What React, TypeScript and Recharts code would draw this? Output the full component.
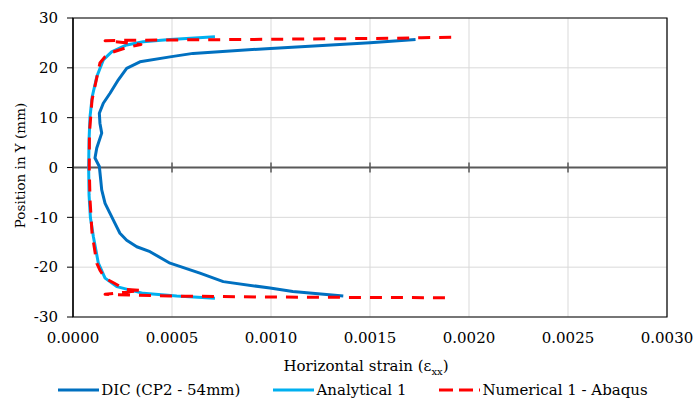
import {
  ScatterChart,
  Scatter,
  XAxis,
  YAxis,
  CartesianGrid,
  ReferenceLine,
  ReferenceArea,
} from "recharts";

type Pt = { x: number; y: number };

// strain values (x), position in Y (y) in mm
const dicStrain = [
  0.00173, 0.0015, 0.000998, 0.000606, 0.00049, 0.000338, 0.000271, 0.000229,
  0.000187, 0.000153, 0.000133, 0.000136, 0.000145, 0.00012, 0.000111, 0.000133,
  0.00014, 0.000145, 0.000162, 0.000187, 0.000212, 0.000237, 0.000271, 0.000322,
  0.000389, 0.00049, 0.000641, 0.000759, 0.000995, 0.00111, 0.001365,
];
const dicY = [
  25.7, 25.05, 23.9, 22.9, 22.2, 21.2, 19.9, 17.6, 14.9, 12.9, 10.9, 8.9, 6.9,
  3.9, 1.9, 0.2, -2.5, -4.5, -7.2, -9.2, -11.2, -13.2, -14.6, -15.9, -16.9,
  -19.2, -21.2, -22.9, -24.2, -24.9, -25.8,
];

const anaStrain = [
  0.000717, 0.00049, 0.000355, 0.000271, 0.000195, 0.000153, 0.00012, 0.000097,
  0.000086, 0.000081, 0.000079, 0.000081, 0.000088, 0.000103, 0.000128,
  0.000162, 0.000221, 0.000355, 0.000524, 0.000717,
];
const anaY = [
  26.25, 25.7, 25.25, 24.6, 23.2, 21.6, 18.2, 14.2, 10.2, 5.5, 0, -5.5, -10.1,
  -13.9, -19.2, -22.2, -23.9, -25.25, -25.8, -26.25,
];

const numStrain = [
  0.00191, 0.00176, 0.00164, 0.000995, 0.00049, 0.000288, 0.000162, 0.000343,
  0.000271, 0.000202, 0.000162, 0.000136, 0.000096, 0.000083, 0.000082,
  0.000086, 0.000096, 0.00012, 0.000136, 0.000162, 0.000195, 0.000263,
  0.000343, 0.000162, 0.000288, 0.00049, 0.000995, 0.0015, 0.0019,
];
const numY = [
  26.13, 26.05, 25.93, 25.73, 25.59, 25.53, 25.45, 24.68, 24.08, 23.18, 22.24,
  20.97, 13.55, 6.9, 0, -6.5, -13.1, -19.2, -20.6, -22.24, -22.92, -24.44,
  -24.68, -25.45, -25.59, -25.79, -25.99, -26.09, -26.13,
];

const xTicks = [0, 0.0005, 0.001, 0.0015, 0.002, 0.0025, 0.003];
const yTicks = [-30, -20, -10, 0, 10, 20, 30];

const zip = (xs: number[], ys: number[]): Pt[] =>
  xs.map((x, i) => ({ x, y: ys[i] }));

const series = [
  { name: "DIC (CP2 - 54mm)", data: zip(dicStrain, dicY), color: "#0070C0", dash: undefined as string | undefined },
  { name: "Analytical 1", data: zip(anaStrain, anaY), color: "#00B0F0", dash: undefined as string | undefined },
  { name: "Numerical 1 - Abaqus", data: zip(numStrain, numY), color: "#FF0000", dash: "12 9" },
];

const FONT = "'DejaVu Serif', 'Liberation Serif', serif";

function XTitle({ viewBox }: any) {
  const cx = viewBox.x + viewBox.width / 2 - 4;
  return (
    <text x={cx} y={371} textAnchor="middle" fontSize={15} fill="#000" style={{ fontFamily: FONT }}>
      Horizontal strain (ε
      <tspan fontSize={10} dy={4}>xx</tspan>
      <tspan dy={-4}>)</tspan>
    </text>
  );
}

function YTitle({ viewBox }: any) {
  const cy = viewBox.y + viewBox.height / 2 - 2;
  return (
    <text
      x={20}
      y={cy}
      transform={`rotate(-90, 20, ${cy})`}
      textAnchor="middle"
      dominantBaseline="central"
      fontSize={13.5}
      fill="#000"
      style={{ fontFamily: FONT }}
    >
      Position in Y (mm)
    </text>
  );
}

export default function App() {
  return (
    <div style={{ position: "absolute", left: 0, top: 0, width: 694, height: 400, fontFamily: FONT }}>
      <ScatterChart
        width={694}
        height={400}
        margin={{ top: 18, right: 27, bottom: 0, left: 0 }}
      >
        <CartesianGrid stroke="#d9d9d9" strokeWidth={1} />
        <XAxis
          type="number"
          dataKey="x"
          domain={[0, 0.003]}
          ticks={xTicks}
          tickFormatter={(v: number) => v.toFixed(4)}
          axisLine={false}
          tickLine={false}
          tickSize={0}
          tickMargin={15}
          height={83}
          tick={{ fontSize: 15, fill: "#000", style: { fontFamily: FONT } }}
          label={<XTitle />}
        />
        <YAxis
          type="number"
          dataKey="y"
          domain={[-30, 30]}
          ticks={yTicks}
          width={73}
          tickSize={6}
          tickMargin={9}
          axisLine={{ stroke: "#000", strokeWidth: 1.2 }}
          tickLine={{ stroke: "#000" }}
          tick={{ fontSize: 15, fill: "#000", style: { fontFamily: FONT } }}
          label={<YTitle />}
        />
        <ReferenceArea x1={0} x2={0.003} y1={-30} y2={30} fill="none" stroke="#000" strokeWidth={1.2} />
        <ReferenceLine y={0} stroke="#595959" strokeWidth={2} />
        {xTicks.slice(1, -1).map((t) => (
          <ReferenceLine
            key={t}
            segment={[
              { x: t, y: -1 },
              { x: t, y: 1 },
            ]}
            stroke="#595959"
            strokeWidth={1.5}
          />
        ))}
        {series.map((s) => (
          <Scatter
            key={s.name}
            name={s.name}
            data={s.data}
            fill={s.color}
            line={{
              stroke: s.color,
              strokeWidth: 3,
              strokeDasharray: s.dash,
              strokeLinejoin: "round",
              fill: "none",
            }}
            lineJointType="linear"
            shape={() => <g />}
            isAnimationActive={false}
          />
        ))}
      </ScatterChart>
      <div
        style={{
          position: "absolute",
          left: 0,
          top: 379,
          width: 706,
          display: "flex",
          justifyContent: "center",
          alignItems: "center",
          gap: 33,
          fontSize: 15,
          color: "#000",
          lineHeight: "22px",
        }}
      >
        {series.map((s) => (
          <span key={s.name} style={{ display: "flex", alignItems: "center", gap: 2 }}>
            <svg width={41} height={6}>
              <line
                x1={0}
                y1={3}
                x2={41}
                y2={3}
                stroke={s.color}
                strokeWidth={3}
                strokeDasharray={s.dash ? "14 6" : undefined}
              />
            </svg>
            {s.name}
          </span>
        ))}
      </div>
    </div>
  );
}
